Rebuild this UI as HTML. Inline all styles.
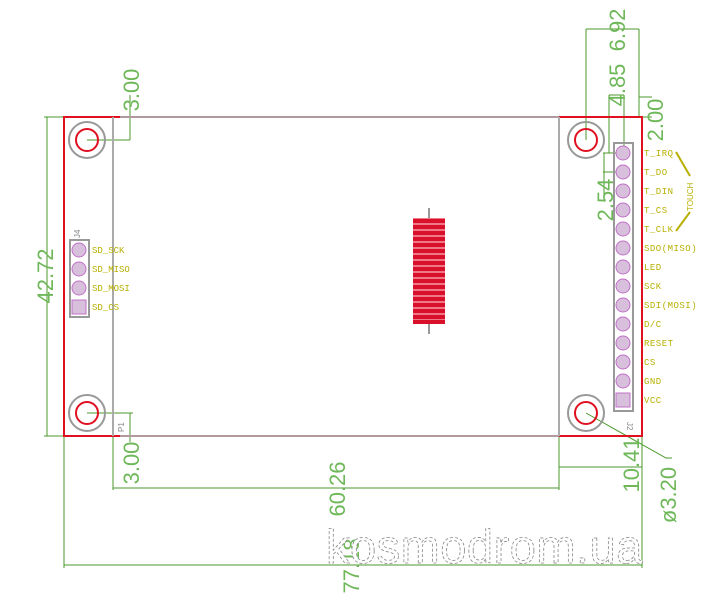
<!DOCTYPE html>
<html><head><style>body{margin:0;background:#fff}svg{display:block}</style></head><body>
<svg width="715" height="594" viewBox="0 0 715 594" xmlns="http://www.w3.org/2000/svg" font-family="Liberation Sans, sans-serif">
<g stroke="#4a9a2a" stroke-width="1" fill="none">
<line x1="47" y1="117" x2="47" y2="436"/><line x1="44" y1="117" x2="64" y2="117"/><line x1="44" y1="436" x2="64" y2="436"/>
<line x1="87" y1="140" x2="130" y2="140"/><line x1="130" y1="95" x2="130" y2="140"/>
<line x1="87" y1="413" x2="133" y2="413"/><line x1="130" y1="413" x2="130" y2="442"/>
<line x1="113" y1="436" x2="113" y2="490"/><line x1="559" y1="436" x2="559" y2="490"/><line x1="113" y1="488" x2="559" y2="488"/>
<line x1="559" y1="467" x2="642" y2="467"/>
<line x1="64" y1="436" x2="64" y2="568"/><line x1="642" y1="436" x2="642" y2="568"/><line x1="64" y1="565" x2="642" y2="565"/>
<polyline points="586,413 666,458 672,458"/>
<line x1="586" y1="29" x2="639" y2="29"/><line x1="586" y1="29" x2="586" y2="140"/><line x1="639" y1="29" x2="639" y2="117"/>
<line x1="609" y1="95" x2="624" y2="95"/><line x1="624" y1="95" x2="624" y2="153"/><line x1="609" y1="95" x2="609" y2="153"/>
<line x1="639" y1="97" x2="652" y2="97"/><line x1="639" y1="117" x2="652" y2="117"/>
<line x1="603" y1="153" x2="623" y2="153"/><line x1="603" y1="172" x2="623" y2="172"/><line x1="604" y1="153" x2="604" y2="200"/>
</g>
<rect x="113" y="117" width="446" height="319" fill="none" stroke="#b09a9e" stroke-width="2"/>
<g stroke="#e01020" stroke-width="2" fill="none">
<polyline points="120,117 64,117 64,436 120,436"/>
<polyline points="559,117 642,117 642,436 559,436"/>
</g>
<line x1="113" y1="117" x2="113" y2="436" stroke="#aaa" stroke-width="2"/>
<line x1="559" y1="117" x2="559" y2="436" stroke="#aaa" stroke-width="2"/>
<g fill="none">
<circle cx="87" cy="140" r="18" stroke="#999" stroke-width="2"/><circle cx="87" cy="140" r="11" stroke="#e01020" stroke-width="2"/>
<circle cx="87" cy="413" r="18" stroke="#999" stroke-width="2"/><circle cx="87" cy="413" r="11" stroke="#e01020" stroke-width="2"/>
<circle cx="586" cy="140" r="18" stroke="#999" stroke-width="2"/><circle cx="586" cy="140" r="11" stroke="#e01020" stroke-width="2"/>
<circle cx="586" cy="413" r="18" stroke="#999" stroke-width="2"/><circle cx="586" cy="413" r="11" stroke="#e01020" stroke-width="2"/>
</g>
<rect x="614" y="143" width="19" height="268" fill="none" stroke="#999" stroke-width="2"/>
<g fill="#d8c0dc" stroke="#c070c8" stroke-width="1">
<circle cx="623" cy="153" r="7"/><circle cx="623" cy="172" r="7"/><circle cx="623" cy="191" r="7"/><circle cx="623" cy="210" r="7"/><circle cx="623" cy="229" r="7"/><circle cx="623" cy="248" r="7"/><circle cx="623" cy="267" r="7"/><circle cx="623" cy="286" r="7"/><circle cx="623" cy="305" r="7"/><circle cx="623" cy="324" r="7"/><circle cx="623" cy="343" r="7"/><circle cx="623" cy="362" r="7"/><circle cx="623" cy="381" r="7"/>
<rect x="616" y="393" width="14" height="14"/>
</g>
<text x="627" y="422" font-size="8" fill="#888" transform="rotate(90 627 422)">J2</text>
<g fill="#b8b000" font-size="9" font-family="Liberation Mono, monospace" letter-spacing="0.5">
<text x="644" y="156">T_IRQ</text><text x="644" y="175">T_DO</text><text x="644" y="194">T_DIN</text><text x="644" y="213">T_CS</text><text x="644" y="232">T_CLK</text><text x="644" y="251">SDO(MISO)</text><text x="644" y="270">LED</text><text x="644" y="289">SCK</text><text x="644" y="308">SDI(MOSI)</text><text x="644" y="327">D/C</text><text x="644" y="346">RESET</text><text x="644" y="365">CS</text><text x="644" y="384">GND</text><text x="644" y="403">VCC</text>
</g>
<g stroke="#b8b000" stroke-width="2"><line x1="676" y1="152" x2="690" y2="176"/><line x1="690" y1="212" x2="676" y2="231"/></g>
<text x="0" y="0" font-size="8" fill="#b8b000" transform="translate(693 211) rotate(-90)">TOUCH</text>
<rect x="70" y="240" width="19" height="77" fill="none" stroke="#999" stroke-width="2"/>
<g fill="#d8c0dc" stroke="#c070c8"><circle cx="79" cy="250" r="7"/><circle cx="79" cy="269" r="7"/><circle cx="79" cy="288" r="7"/><rect x="72" y="300" width="14" height="14"/></g>
<text x="0" y="0" font-size="8" fill="#888" transform="translate(80 238) rotate(-90)">J4</text>
<text x="0" y="0" font-size="8" fill="#888" transform="translate(124 432) rotate(-90)">P1</text>
<g fill="#b8b000" font-size="9" font-family="Liberation Mono, monospace">
<text x="92" y="253">SD_SCK</text><text x="92" y="272">SD_MISO</text><text x="92" y="291">SD_MOSI</text><text x="92" y="310">SD_CS</text>
</g>
<line x1="429" y1="208" x2="429" y2="334" stroke="#999" stroke-width="2"/>
<rect x="413" y="218" width="32" height="106" fill="#f07888"/>
<g stroke="#d8102a" stroke-width="4">
<line x1="413" y1="221" x2="445" y2="221"/><line x1="413" y1="227" x2="445" y2="227"/><line x1="413" y1="233" x2="445" y2="233"/><line x1="413" y1="239" x2="445" y2="239"/><line x1="413" y1="245" x2="445" y2="245"/><line x1="413" y1="251" x2="445" y2="251"/><line x1="413" y1="257" x2="445" y2="257"/><line x1="413" y1="263" x2="445" y2="263"/><line x1="413" y1="269" x2="445" y2="269"/><line x1="413" y1="275" x2="445" y2="275"/><line x1="413" y1="281" x2="445" y2="281"/><line x1="413" y1="287" x2="445" y2="287"/><line x1="413" y1="293" x2="445" y2="293"/><line x1="413" y1="299" x2="445" y2="299"/><line x1="413" y1="305" x2="445" y2="305"/><line x1="413" y1="311" x2="445" y2="311"/><line x1="413" y1="317" x2="445" y2="317"/><line x1="413" y1="322" x2="445" y2="322"/>
</g>
<g fill="#6fb85a" font-size="22" text-anchor="middle">
<text transform="translate(139 90) rotate(-90)">3.00</text>
<text transform="translate(53 276) rotate(-90)">42.72</text>
<text transform="translate(139 463) rotate(-90)">3.00</text>
<text transform="translate(345 489) rotate(-90)">60.26</text>
<text transform="translate(639 465) rotate(-90)">10.41</text>
<text transform="translate(676 495) rotate(-90)">ø3.20</text>
<text transform="translate(359 566) rotate(-90)">77.18</text>
<text transform="translate(625 30) rotate(-90)">6.92</text>
<text transform="translate(625 85) rotate(-90)">4.85</text>
<text transform="translate(663 120) rotate(-90)">2.00</text>
<text transform="translate(613 200) rotate(-90)">2.54</text>
</g>
<text x="326" y="563" font-size="47" fill="#fff" stroke="#888" stroke-width="0.8" stroke-dasharray="3 2" letter-spacing="0.5">kosmodrom.ua</text>
</svg>
</body></html>
